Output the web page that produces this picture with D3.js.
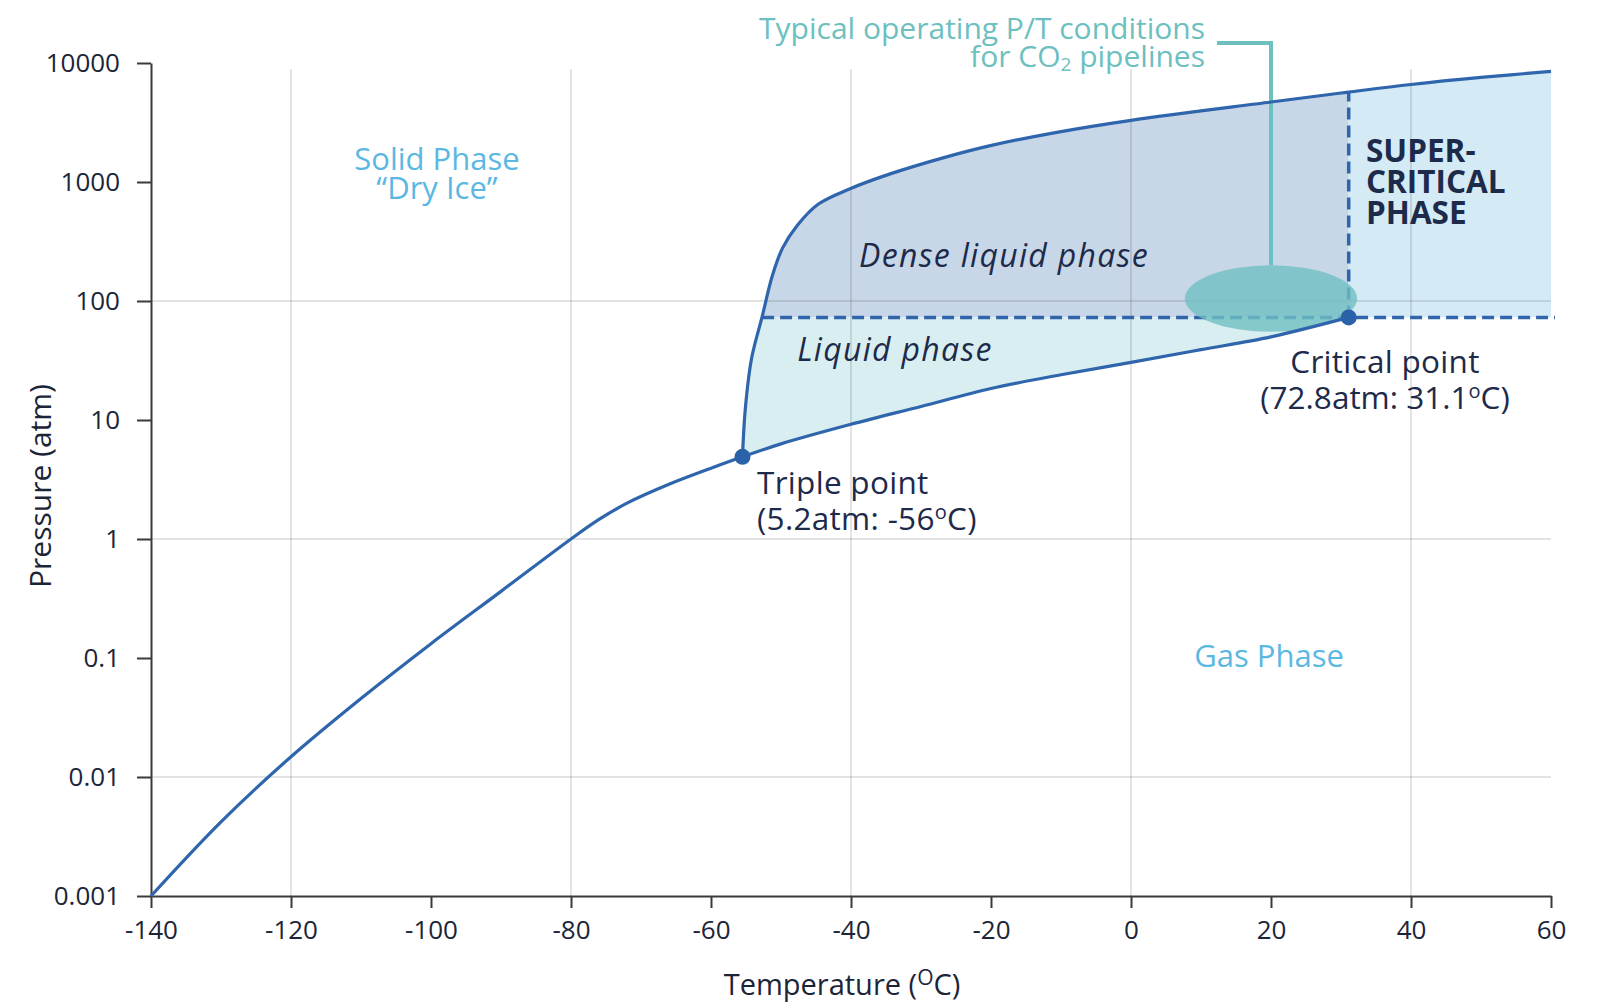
<!DOCTYPE html>
<html>
<head>
<meta charset="utf-8">
<script src="https://cdn.jsdelivr.net/npm/d3@7"></script>
<style>
body { margin: 0; background: #fff; }
text { font-family: "Open Sans", Lato, sans-serif; }
</style>
</head>
<body>
<div id="chart"></div>
<script>
// axis values
let tempTicks = [-140, -120, -100, -80, -60, -40, -20, 0, 20, 40, 60];
let pressureTicks = [0.001, 0.01, 0.1, 1, 10, 100, 1000, 10000];
let pressureLabels = ['0.001', '0.01', '0.1', '1', '10', '100', '1000', '10000'];
let gridTemps = [-120, -80, -40, 0, 40];
let gridPressures = [0.01, 1, 100];

// phase boundaries (T in ºC, P in atm)
let sublimationT = [-140, -130, -120, -110, -100, -90, -80, -76, -72, -66, -60, -55.5];
let sublimationP = [0.001, 0.0042, 0.0148, 0.0457, 0.132, 0.363, 1.0, 1.46, 2.0, 2.88, 3.93, 4.9];

let meltingT = [-55.5, -55.1, -54.2, -52.7, -51.25, -49.8, -47.6, -44.7, -40.3, -34.4, -27.1, -20.4, -11, 0, 20, 31.1, 40, 50.4, 60];
let meltingP = [4.9, 12.4, 33, 73.6, 162, 277, 437, 650, 870, 1170, 1580, 2000, 2590, 3300, 4700, 5700, 6600, 7600, 8500];

let vaporT = [-55.5, -50, -40, -30, -20, -10, 0, 10, 20, 31.1];
let vaporP = [4.9, 6.3, 9.2, 13.0, 18.4, 24, 30.5, 39, 50, 72.8];

let triple = { t: -55.5, p: 4.9 };
let critical = { t: 31.1, p: 72.8 };
let denseStartT = -52.7;
let meltAtCritical = 5700;
let pipeline = { t: 20, p: 105, spanT: 12.3, spanDecades: 0.28 };

let w = 1604;
let h = 1004;

let svg = d3.select('#chart').
append('svg').
attr('width', w).
attr('height', h);

let x = d3.scaleLinear().domain([-140, 60]).range([151, 1551]);
let y = d3.scaleLog().domain([0.001, 10000]).range([896, 63]);

let line = d3.line().
x(d => x(d[0])).
y(d => y(d[1])).
curve(d3.curveCatmullRom.alpha(0.5));

let subPts = d3.zip(sublimationT, sublimationP);
let meltPts = d3.zip(meltingT, meltingP);
let vapPts = d3.zip(vaporT, vaporP);

// region above the critical pressure, clipped into dense liquid / supercritical
let regionD = line(meltPts) +
'L' + x(60) + ',' + y(critical.p) +
'L' + x(critical.t) + ',' + y(critical.p) +
'L' + x(triple.t) + ',' + y(triple.p) + 'Z';

let defs = svg.append('defs');
defs.append('clipPath').attr('id', 'clip-liquid').
append('rect').attr('x', 0).attr('y', y(critical.p)).attr('width', w).attr('height', h);
defs.append('clipPath').attr('id', 'clip-dense').
append('rect').attr('x', 0).attr('y', 0).attr('width', x(critical.t)).attr('height', y(critical.p));
defs.append('clipPath').attr('id', 'clip-super').
append('rect').attr('x', x(critical.t)).attr('y', 0).attr('width', w).attr('height', y(critical.p));

let fills = [['clip-dense', '#c8d7e7'], ['clip-super', '#d4ebf6']];
fills.forEach(f => {
  svg.append('path').
  attr('d', regionD).
  attr('fill', f[1]).
  attr('clip-path', 'url(#' + f[0] + ')');
});

// liquid region: melting line, then back along the vapour curve
let liquidD = line(meltPts) +
'L' + x(critical.t) + ',' + y(critical.p) +
line(vapPts.slice().reverse()).replace(/^M/, 'L');
svg.append('path').
attr('d', liquidD).
attr('fill', '#d9eef0').
attr('clip-path', 'url(#clip-liquid)');

// gridlines
svg.append('g').selectAll('line').
data(gridTemps).
enter().
append('line').
attr('x1', d => x(d)).attr('x2', d => x(d)).
attr('y1', y(10000) + 6).attr('y2', y(0.001)).
attr('stroke', 'rgba(0,0,0,0.15)').
attr('stroke-width', 1.5);

svg.append('g').selectAll('line').
data(gridPressures).
enter().
append('line').
attr('x1', x(-140)).attr('x2', x(60)).
attr('y1', d => y(d)).attr('y2', d => y(d)).
attr('stroke', 'rgba(0,0,0,0.15)').
attr('stroke-width', 1.5);

// axes
let yAxis = d3.axisLeft(y).tickValues(pressureTicks).
tickFormat((d, i) => pressureLabels[i]).
tickSize(14).tickSizeOuter(0).tickPadding(17);
let xAxis = d3.axisBottom(x).tickValues(tempTicks).
tickFormat(d => String(d)).
tickSize(12).tickSizeOuter(0).tickPadding(13);

let gy = svg.append('g').attr('transform', 'translate(' + x(-140) + ',0)').call(yAxis);
let gx = svg.append('g').attr('transform', 'translate(0,' + y(0.001) + ')').call(xAxis);
[gx, gy].forEach(g => {
  g.select('.domain').attr('stroke', '#3a3a3a').attr('stroke-width', 2);
  g.selectAll('.tick line').attr('stroke', '#3a3a3a').attr('stroke-width', 2);
  g.selectAll('.tick text').attr('font-size', 26).attr('fill', '#1b2538').
  style('font-family', '"Open Sans", sans-serif');
});

// dashed phase limits
let blue = '#2e65ad';
svg.append('line').
attr('x1', x(denseStartT)).attr('x2', x(60) + 4).
attr('y1', y(critical.p)).attr('y2', y(critical.p)).
attr('stroke', blue).attr('stroke-width', 3.5).attr('stroke-dasharray', '12,6');

// pipeline ellipse + leader
let ex = x(pipeline.t);
let ey = y(pipeline.p);
let erx = x(pipeline.t + pipeline.spanT) - ex;
let ery = ey - y(pipeline.p * Math.pow(10, pipeline.spanDecades));

svg.append('path').
attr('d', 'M' + ex + ',' + (ey - ery) + 'V43H1217').
attr('fill', 'none').
attr('stroke', '#6cc0c0').
attr('stroke-width', 4);

svg.append('line').
attr('x1', x(critical.t)).attr('x2', x(critical.t)).
attr('y1', y(critical.p)).attr('y2', y(meltAtCritical)).
attr('stroke', blue).attr('stroke-width', 3.5).attr('stroke-dasharray', '12,6');

svg.append('ellipse').
attr('cx', ex).attr('cy', ey).attr('rx', erx).attr('ry', ery).
attr('fill', '#6fbfc2').attr('opacity', 0.8);

// boundary curves
[subPts, meltPts, vapPts].forEach(pts => {
  svg.append('path').
  attr('d', line(pts)).
  attr('fill', 'none').
  attr('stroke', blue).
  attr('stroke-width', 3.2);
});

svg.selectAll('circle.pt').
data([triple, critical]).
enter().
append('circle').
attr('class', 'pt').
attr('cx', d => x(d.t)).
attr('cy', d => y(d.p)).
attr('r', 8).
attr('fill', '#2b61a8');

// labels
function label(txt, tx, ty, opts) {
  let t = svg.append('text').
  attr('x', tx).attr('y', ty).
  attr('font-size', opts.size || 31.5).
  attr('fill', opts.fill || '#1d2a4a').
  attr('text-anchor', opts.anchor || 'start');
  if (opts.italic) t.attr('font-style', 'italic');
  if (opts.bold) t.attr('font-weight', 700);
  if (opts.spacing) t.attr('letter-spacing', opts.spacing);
  t.text(txt);
  return t;
}

let lightBlue = '#5bb8e3';
let teal = '#6cc0c0';
label('Solid Phase', 437, 170, { fill: lightBlue, anchor: 'middle', size: 31 });
label('\u201CDry Ice\u201D', 437, 199, { fill: lightBlue, anchor: 'middle', size: 31 });
label('Gas Phase', 1269, 667, { fill: lightBlue, anchor: 'middle', size: 31 });

label('Dense liquid phase', 1004, 267, { anchor: 'middle', italic: true, size: 32, spacing: 1.3 });
label('Liquid phase', 895, 361, { anchor: 'middle', italic: true, size: 32, spacing: 1.3 });

label('SUPER-', 1366, 162, { bold: true, size: 31.5 });
label('CRITICAL', 1366, 193, { bold: true, size: 31.5 });
label('PHASE', 1366, 224, { bold: true, size: 31.5 });

label('Triple point', 757, 494, { spacing: 0.3 });
let tp = label('(5.2atm: -56', 757, 530, { spacing: 0.3 });
tp.append('tspan').attr('font-size', 20).attr('dy', -11).text('o');
tp.append('tspan').attr('dy', 11).text('C)');

label('Critical point', 1385, 373, { anchor: 'middle', spacing: 0.3 });
let cp = label('(72.8atm: 31.1', 1385, 409, { anchor: 'middle' });
cp.append('tspan').attr('font-size', 20).attr('dy', -11).text('o');
cp.append('tspan').attr('dy', 11).text('C)');

label('Typical operating P/T conditions', 1205, 39, { fill: teal, anchor: 'end', size: 30 });
let pl = label('for CO', 1205, 67, { fill: teal, anchor: 'end', size: 30 });
pl.append('tspan').attr('font-size', 19).attr('dy', 4).text('2');
pl.append('tspan').attr('dy', -4).text(' pipelines');

svg.append('text').
attr('transform', 'translate(51,486) rotate(-90)').
attr('text-anchor', 'middle').
attr('font-size', 30).
attr('fill', '#1b2538').
text('Pressure (atm)');

let xl = svg.append('text').
attr('x', 842).attr('y', 995).
attr('text-anchor', 'middle').
attr('font-size', 29).
attr('fill', '#1b2538').
text('Temperature (');
xl.append('tspan').attr('font-size', 21).attr('dy', -10).text('O');
xl.append('tspan').attr('dy', 10).text('C)');
</script>
</body>
</html>
